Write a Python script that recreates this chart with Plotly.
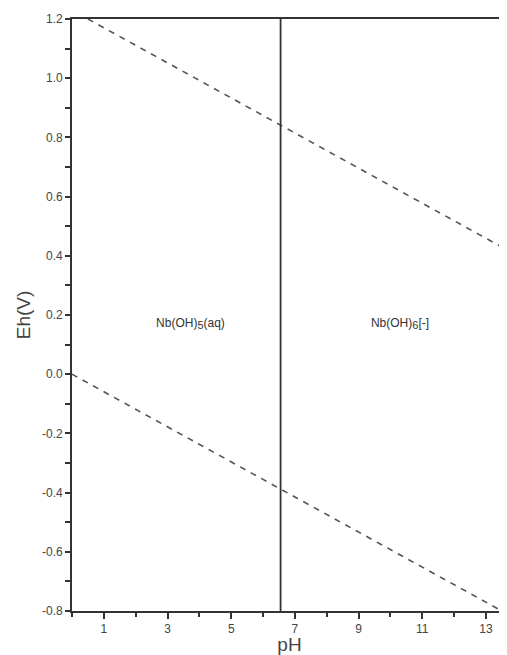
import plotly.graph_objects as go

# Water stability lines (dashed)
upper_ph = [0.5, 13.66]
upper_eh = [1.2, 0.42]
lower_ph = [0.0, 13.5]
lower_eh = [0.0, -0.8]

# Boundary between the two niobium species
boundary_ph = [6.55, 6.55]
boundary_eh = [-0.8, 1.2]

# Field labels
species = ['Nb(OH)<sub><span style="font-size:11px">5</span></sub>(aq)',
           'Nb(OH)<sub><span style="font-size:11px">6</span></sub>[-]']
species_ph = [3.72, 10.3]
species_eh = [0.17, 0.17]

x_ticks = [1, 3, 5, 7, 9, 11, 13]
y_ticks = [-0.8, -0.6, -0.4, -0.2, 0.0, 0.2, 0.4, 0.6, 0.8, 1.0, 1.2]
y_labels = ["-0.8", "-0.6", "-0.4", "-0.2", "0.0", "0.2", "0.4", "0.6", "0.8", "1.0", "1.2"]

line_col = "#333333"
dash_col = "#555555"

fig = go.Figure()
fig.add_trace(go.Scatter(x=upper_ph, y=upper_eh, mode="lines",
                         line=dict(color=dash_col, width=1.6, dash="6px,6px")))
fig.add_trace(go.Scatter(x=lower_ph, y=lower_eh, mode="lines",
                         line=dict(color=dash_col, width=1.6, dash="6px,6px")))
fig.add_trace(go.Scatter(x=boundary_ph, y=boundary_eh, mode="lines",
                         line=dict(color=line_col, width=1.8)))
fig.add_trace(go.Scatter(x=species_ph, y=species_eh, mode="text", text=species,
                         textfont=dict(size=12, color="#333333")))

# page body adds 8px on the left/top, so the figure is a bit smaller than the window
fig.update_layout(
    width=499, height=647,
    margin=dict(l=64, r=0, t=11, b=44),
    plot_bgcolor="white", paper_bgcolor="white",
    showlegend=False,
    font=dict(family="Liberation Sans, Arial, sans-serif", color="#444444"),
)
fig.update_xaxes(
    range=[0, 13.66], tickvals=x_ticks, showgrid=False, zeroline=False,
    showline=True, linecolor=line_col, linewidth=1.8, mirror=True,
    ticks="outside", ticklen=6, tickwidth=1.5, tickcolor=line_col,
    minor=dict(tickvals=[0, 2, 4, 6, 8, 10, 12], ticks="outside", ticklen=4,
               tickwidth=1.5, tickcolor=line_col),
    tickfont=dict(size=12),
    title=dict(text="pH", font=dict(size=19), standoff=3),
)
fig.update_yaxes(
    range=[-0.8, 1.2], tickvals=y_ticks, ticktext=y_labels, showgrid=False,
    zeroline=False, showline=True, linecolor=line_col, linewidth=1.8,
    ticks="outside", ticklen=5, tickwidth=1.5, tickcolor=line_col,
    minor=dict(dtick=0.1, ticks="outside", ticklen=5, tickwidth=1.5,
               tickcolor=line_col),
    tickfont=dict(size=12),
    title=dict(text="Eh(V)", font=dict(size=19), standoff=6),
)

fig.write_html("out.html")
